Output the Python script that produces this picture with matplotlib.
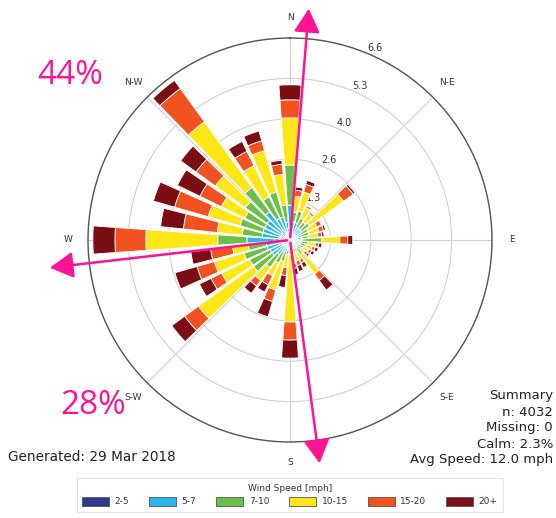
import numpy as np
import matplotlib
matplotlib.use("Agg")
import matplotlib.pyplot as plt
from matplotlib.patches import Patch, FancyArrowPatch

# wind directions (deg, clockwise from north), 10 degree bins
directions = np.arange(0, 360, 10)

# frequency (%) per speed bin for each direction
speed_bins = ["2-5", "5-7", "7-10", "10-15", "15-20", "20+"]
f_2_5 = [0.39, 0.26, 0.26, 0.20, 0.20, 0.20, 0.16, 0.16, 0.16, 0.16, 0.13, 0.13,
         0.13, 0.13, 0.13, 0.13, 0.13, 0.13, 0.10, 0.13, 0.16, 0.16, 0.20, 0.26,
         0.26, 0.26, 0.26, 0.49, 0.33, 0.33, 0.33, 0.33, 0.39, 0.26, 0.26, 0.26]
f_5_7 = [0.75, 0.33, 0.33, 0.26, 0.26, 0.26, 0.23, 0.23, 0.23, 0.23, 0.20, 0.20,
         0.20, 0.16, 0.20, 0.16, 0.16, 0.16, 0.13, 0.16, 0.23, 0.29, 0.39, 0.46,
         0.46, 0.52, 0.52, 0.92, 0.59, 0.59, 0.59, 0.59, 0.75, 0.52, 0.52, 0.33]
f_7_10 = [1.31, 0.33, 0.39, 0.33, 0.26, 0.33, 0.26, 0.26, 0.20, 0.65, 0.26, 0.20,
          0.16, 0.16, 0.26, 0.16, 0.16, 0.16, 0.23, 0.20, 0.33, 0.39, 0.52, 0.75,
          0.75, 0.78, 0.59, 0.95, 0.65, 0.78, 0.72, 0.88, 0.98, 0.78, 0.85, 0.56]
f_10_15 = [1.54, 0.52, 0.65, 0.39, 0.33, 1.37, 0.33, 0.33, 0.33, 0.59, 0.26, 0.23,
           0.20, 0.16, 0.78, 0.26, 0.26, 0.33, 2.22, 0.42, 0.98, 0.46, 0.52, 2.22,
           1.01, 1.01, 0.52, 2.35, 0.82, 1.08, 0.85, 1.21, 2.65, 1.14, 1.41, 1.01]
f_15_20 = [0.59, 0.20, 0.26, 0.07, 0.07, 0.39, 0.16, 0.16, 0.13, 0.26, 0.10, 0.10,
           0.10, 0.10, 0.26, 0.13, 0.16, 0.16, 0.59, 0.26, 0.39, 0.33, 0.23, 0.56,
           0.39, 0.59, 0.72, 1.01, 1.11, 1.14, 0.78, 0.78, 1.34, 0.52, 0.33, 0.33]
f_20p = [0.49, 0.10, 0.13, 0.03, 0.03, 0.07, 0.03, 0.07, 0.07, 0.16, 0.10, 0.10,
         0.10, 0.07, 0.39, 0.16, 0.20, 0.20, 0.59, 0.39, 0.52, 0.26, 0.29, 0.52,
         0.42, 0.75, 0.65, 0.72, 0.75, 0.72, 0.82, 0.62, 0.33, 0.36, 0.33, 0.13]

colors = ["#2b3990", "#29b6e8", "#6cc04a", "#ffe617", "#f1521f", "#7a0e14"]

compass = ["N", "N-E", "E", "S-E", "S", "S-W", "W", "N-W"]
r_max = 6.6

summary = ["Summary", "n: 4032", "Missing: 0", "Calm: 2.3%", "Avg Speed: 12.0 mph"]
generated = "Generated: 29 Mar 2018"

# annotation overlay (figure pixels)
pink = "#ff1493"
arrow_tips = [(309, 6), (320, 466), (47, 268)]
centre_px = (290, 240)

W, H = 556, 518
fig = plt.figure(figsize=(W / 100, H / 100), dpi=100)
ax = fig.add_axes([88 / W, 1 - 442 / H, 404 / W, 404 / H], projection="polar")
ax.set_theta_zero_location("N")
ax.set_theta_direction(-1)

theta = np.deg2rad(directions)
width = np.deg2rad(8.2)
series = [f_2_5, f_5_7, f_7_10, f_10_15, f_15_20, f_20p]
bottom = np.zeros(len(directions))
for vals, c in zip(series, colors):
    ax.bar(theta, vals, width=width, bottom=bottom, color=c,
           edgecolor="white", linewidth=0.6, zorder=3)
    bottom += np.array(vals)

ax.set_ylim(0, r_max)
rt = np.linspace(0, r_max, 6)[1:]
ax.set_yticks(rt)
ax.set_yticklabels(["%.1f" % v for v in rt], fontsize=7, color="#333333")
ax.set_rlabel_position(22.5)
ax.set_xticks(np.deg2rad(np.arange(0, 360, 45)))
ax.set_xticklabels(compass, fontsize=6.5, color="#333333")
ax.tick_params(axis="x", pad=4)
ax.grid(color="#d0d0d0", linewidth=0.8)
ax.spines["polar"].set_color("#555555")
ax.spines["polar"].set_linewidth(1.0)

handles = [Patch(facecolor=c, edgecolor="#555555", linewidth=0.6) for c in colors]
leg = fig.legend(handles, speed_bins, loc="center", ncol=6,
                 bbox_to_anchor=(290 / W, 1 - 495 / H), fontsize=6.5,
                 title="Wind Speed [mph]", title_fontsize=6.5, frameon=True,
                 handlelength=3.0, handleheight=1.1, columnspacing=2.2,
                 handletextpad=0.6, borderpad=0.6, fancybox=False)
leg.get_frame().set_edgecolor("#dddddd")
leg.get_frame().set_linewidth(0.8)
for t in leg.get_texts():
    t.set_color("#333333")
leg.get_title().set_color("#333333")

for i, line in enumerate(summary):
    fig.text(553 / W, 1 - (396 + 16 * i) / H, line, ha="right", va="center",
             fontsize=9.5, color="#222222")
fig.text(8 / W, 1 - 457 / H, generated, ha="left", va="center",
         fontsize=9.8, color="#222222")

cx, cy = centre_px[0] / W, 1 - centre_px[1] / H
for tx, ty in arrow_tips:
    fig.add_artist(FancyArrowPatch(
        (cx, cy), (tx / W, 1 - ty / H), transform=fig.transFigure,
        arrowstyle="-|>,head_length=9,head_width=5", mutation_scale=1.6,
        color=pink, linewidth=1.8, zorder=10))

fig.text(70 / W, 1 - 75 / H, "44%", ha="center", va="center",
         fontsize=24, color=pink, family="Open Sans")
fig.text(93 / W, 1 - 405 / H, "28%", ha="center", va="center",
         fontsize=24, color=pink, family="Open Sans")

fig.savefig("out.png", dpi=100)
